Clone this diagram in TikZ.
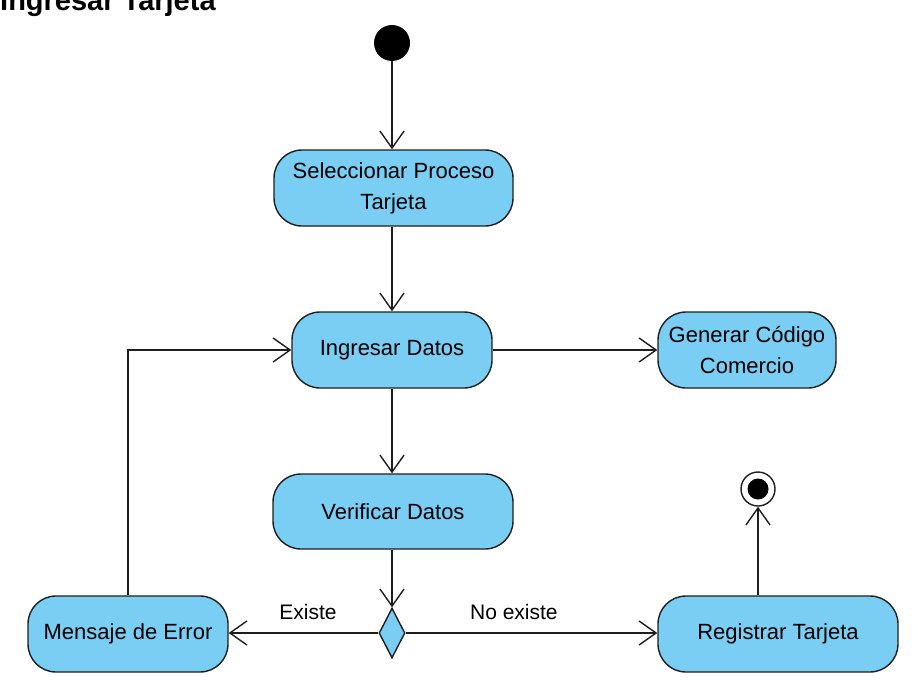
\documentclass[tikz,border=0pt]{standalone}
\usepackage{fontspec}
\setmainfont{Liberation Sans}
\usetikzlibrary{arrows.meta,shapes.geometric}
\definecolor{actfill}{RGB}{122,206,244}
\definecolor{edge}{RGB}{30,30,30}
\begin{document}
\begin{tikzpicture}[x=1pt,y=-1pt,
  action/.style={draw=edge, fill=actfill, rounded corners=28pt, line width=1.4pt,
    minimum height=76pt, align=center, inner sep=0pt,
    font=\fontsize{22}{31}\selectfont},
  flow/.style={draw=edge, line width=1.4pt, -{Straight Barb[length=17pt,width=24pt,line width=1.4pt]}},
  lbl/.style={font=\fontsize{21}{24}\selectfont, inner sep=0pt}]
\useasboundingbox (0,0) rectangle (918,696);
\node[anchor=base west, inner sep=0pt, font=\fontsize{29}{32}\selectfont\bfseries] (title) at (0,10) {Ingresar Tarjeta};
\node[circle, fill=black, minimum size=36pt, inner sep=0pt] (ini) at (392,43) {};
\node[action, minimum width=239pt] (sel) at (393.5,188) {Seleccionar Proceso\\Tarjeta};
\node[action, minimum width=200pt] (ing) at (392,350) {Ingresar Datos};
\node[action, minimum width=178pt] (gen) at (747,350) {Generar Código\\Comercio};
\node[action, minimum width=240pt, minimum height=75pt] (ver) at (393,511.5) {Verificar Datos};
\node[diamond, draw=edge, fill=actfill, line width=1.4pt, minimum width=26pt, minimum height=50pt, inner sep=0pt, aspect=0.52] (dec) at (392,633) {};
\node[action, minimum width=200pt] (err) at (128,634) {Mensaje de Error};
\node[action, minimum width=240pt] (reg) at (778,634) {Registrar Tarjeta};
\node[circle, draw=edge, fill=white, line width=1.4pt, minimum size=34pt, inner sep=0pt] (fin) at (758,489) {};
\node[circle, fill=black, minimum size=21pt, inner sep=0pt] (finin) at (fin.center) {};
\draw[flow] (ini) -- (ini |- sel.north);
\draw[flow] (ini |- sel.south) -- (ini |- ing.north);
\draw[flow] (ing.east) -- (ing.east -| gen.west);
\draw[flow] (ing.south) -- (ing.south |- ver.north);
\draw[flow] (dec |- ver.south) -- (dec.north);
\draw[flow] (dec.west) -- node[lbl, above=13pt, pos=0.47] (lex) {Existe} (dec.west -| err.east);
\draw[flow] (dec.east) -- node[lbl, above=13pt, pos=0.43] (lnx) {No existe} (dec.east -| reg.west);
\draw[flow] (fin |- reg.north) -- (fin.south);
\draw[flow] (err.north) |- (ing.west);
\end{tikzpicture}
\end{document}
